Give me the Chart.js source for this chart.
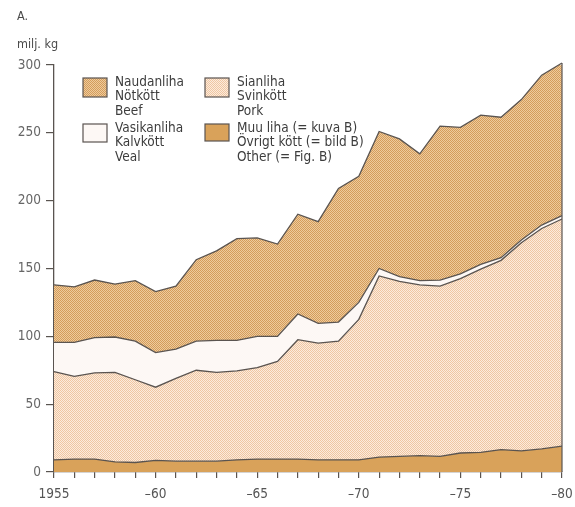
<!DOCTYPE html>
<html>
<head>
<meta charset="utf-8">
<script src="https://cdn.jsdelivr.net/npm/chart.js@4/dist/chart.umd.min.js"></script>
<style>
  body { margin: 0; background: #fff; }
  #wrap { width: 575px; height: 507px; }
</style>
</head>
<body>
<div id="wrap"><canvas id="meatChart" width="575" height="507"></canvas></div>
<script>
const years = [1955, 1956, 1957, 1958, 1959, 1960, 1961, 1962, 1963, 1964, 1965, 1966, 1967,
  1968, 1969, 1970, 1971, 1972, 1973, 1974, 1975, 1976, 1977, 1978, 1979, 1980];
const majorYears = [1955, 1960, 1965, 1970, 1975, 1980];
const xTickLabels = ['1955', '–60', '–65', '–70', '–75', '–80'];
const yTicks = [0, 50, 100, 150, 200, 250, 300];

// milj. kg, each layer's own thickness (stacked from the bottom)
const otherMeat = [9, 9.5, 9.5, 7.5, 7, 8.5, 8, 8, 8, 9, 9.5, 9.5, 9.5, 9, 9, 9, 11, 11.5, 12, 11.5, 14, 14.5, 16.5, 15.5, 17, 19];
const pork = [65, 61, 63.5, 66, 61, 54, 61, 67, 65.5, 65.5, 67.5, 72, 88, 86, 87.5, 103.5, 133.5, 129, 126, 125.5, 128.5, 135, 139.5, 153.5, 162.5, 167.5];
const veal = [21.5, 25, 26, 26, 28.5, 25.5, 21.5, 21.5, 23.5, 22.5, 23, 18.5, 19, 14.5, 14, 12.5, 5.5, 3.5, 3, 4.5, 3.5, 3.5, 2, 2, 2.5, 2.5];
const beef = [42.5, 41, 42.5, 39, 44.5, 45, 46.5, 60, 66, 75, 72.5, 68, 73.5, 75, 98.5, 93, 101, 101.5, 93.5, 113.5, 108, 110, 103.5, 103.5, 110.5, 112.5];

const beefLabel = ['Naudanliha', 'Nötkött', 'Beef'];
const porkLabel = ['Sianliha', 'Svinkött', 'Pork'];
const vealLabel = ['Vasikanliha', 'Kalvkött', 'Veal'];
const otherLabel = ['Muu liha (= kuva B)', 'Övrigt kött (= bild B)', 'Other (= Fig. B)'];

const FONT = "'Liberation Sans Narrow', 'DejaVu Sans Condensed', 'Roboto', sans-serif";
const LINE = '#5a5450';

const ctx = document.getElementById('meatChart').getContext('2d');

// fine halftone tile like the printed dot screen
function dotPattern(base, dot) {
  const c = document.createElement('canvas');
  c.width = 2; c.height = 2;
  const g = c.getContext('2d');
  g.fillStyle = base;
  g.fillRect(0, 0, 2, 2);
  g.fillStyle = dot;
  g.fillRect(0, 0, 1, 1);
  g.fillRect(1, 1, 1, 1);
  return ctx.createPattern(c, 'repeat');
}

const beefFill = dotPattern('#eecb9c', '#d49c5c');
const porkFill = dotPattern('#fcebdc', '#efc6a2');
const vealFill = '#fdf8f5';
const otherFill = '#d9a25a';

function series(label, data, fill, bg) {
  return {
    label, data, fill,
    backgroundColor: bg,
    borderColor: LINE,
    borderWidth: 1.3,
    pointRadius: 0,
    tension: 0,
    clip: false,
  };
}

const legendPlugin = {
  id: 'legendBoxes',
  afterDraw(chart) {
    const g = chart.ctx;
    const a = chart.chartArea;
    const items = [
      { x: a.left + 29, y: a.top + 13, h: 19, fill: beefFill, lines: beefLabel },
      { x: a.left + 151, y: a.top + 13, h: 19, fill: porkFill, lines: porkLabel },
      { x: a.left + 29, y: a.top + 59, h: 18, fill: vealFill, lines: vealLabel },
      { x: a.left + 151, y: a.top + 59, h: 17, fill: otherFill, lines: otherLabel },
    ];
    g.save();
    items.forEach(it => {
      g.fillStyle = it.fill;
      g.fillRect(it.x, it.y, 24, it.h);
      g.strokeStyle = LINE;
      g.lineWidth = 1.2;
      g.strokeRect(it.x, it.y, 24, it.h);
      g.fillStyle = '#3d3d3d';
      g.font = '13.5px ' + FONT;
      g.textBaseline = 'middle';
      it.lines.forEach((t, i) => g.fillText(t, it.x + 32, it.y + 4 + i * 14.8));
    });
    // right edge of the stack
    const xs = chart.scales.x, ys = chart.scales.y;
    const xr = xs.getPixelForValue(years.length - 1);
    const top = ys.getPixelForValue(otherMeat[25] + pork[25] + veal[25] + beef[25]);
    g.beginPath();
    g.moveTo(xr, ys.getPixelForValue(0));
    g.lineTo(xr, top);
    g.strokeStyle = LINE;
    g.lineWidth = 1.2;
    g.stroke();
    // panel letter and unit
    g.fillStyle = '#4a4a4a';
    g.font = '12.5px ' + FONT;
    g.textBaseline = 'middle';
    g.fillText('A.', 17, 17);
    g.fillText('milj. kg', 17, 45);
    g.restore();
  }
};

const chart = new Chart(ctx, {
  type: 'line',
  data: {
    labels: years,
    datasets: [
      series('Other', otherMeat, 'origin', otherFill),
      series('Pork', pork, '-1', porkFill),
      series('Veal', veal, '-1', vealFill),
      series('Beef', beef, '-1', beefFill),
    ],
  },
  options: {
    responsive: false,
    animation: false,
    layout: { padding: { top: 65, right: 13, left: 0, bottom: 0 } },
    plugins: { legend: { display: false }, tooltip: { enabled: false } },
    scales: {
      x: {
        type: 'category',
        offset: false,
        border: { color: LINE, width: 1.3 },
        grid: { drawOnChartArea: false, drawTicks: true, tickLength: 6, color: LINE, lineWidth: 1.2 },
        ticks: {
          autoSkip: false,
          maxRotation: 0,
          padding: 8,
          color: '#555',
          font: { family: FONT, size: 13.5 },
          callback: (v, i) => {
            const k = majorYears.indexOf(years[i]);
            return k >= 0 ? xTickLabels[k] : '';
          },
        },
        afterFit: s => { s.height = 35; s.paddingRight = 0; s.paddingLeft = 0; },
      },
      y: {
        stacked: true,
        min: 0,
        max: 300,
        border: { color: LINE, width: 1.3 },
        grid: { drawOnChartArea: false, drawTicks: true, tickLength: 8, color: LINE, lineWidth: 1.2 },
        afterBuildTicks: s => { s.ticks = yTicks.map(v => ({ value: v })); },
        ticks: {
          padding: 5,
          color: '#666',
          font: { family: FONT, size: 13.5 },
        },
        afterFit: s => { s.width = 54; },
      },
    },
  },
  plugins: [legendPlugin],
});
</script>
</body>
</html>
